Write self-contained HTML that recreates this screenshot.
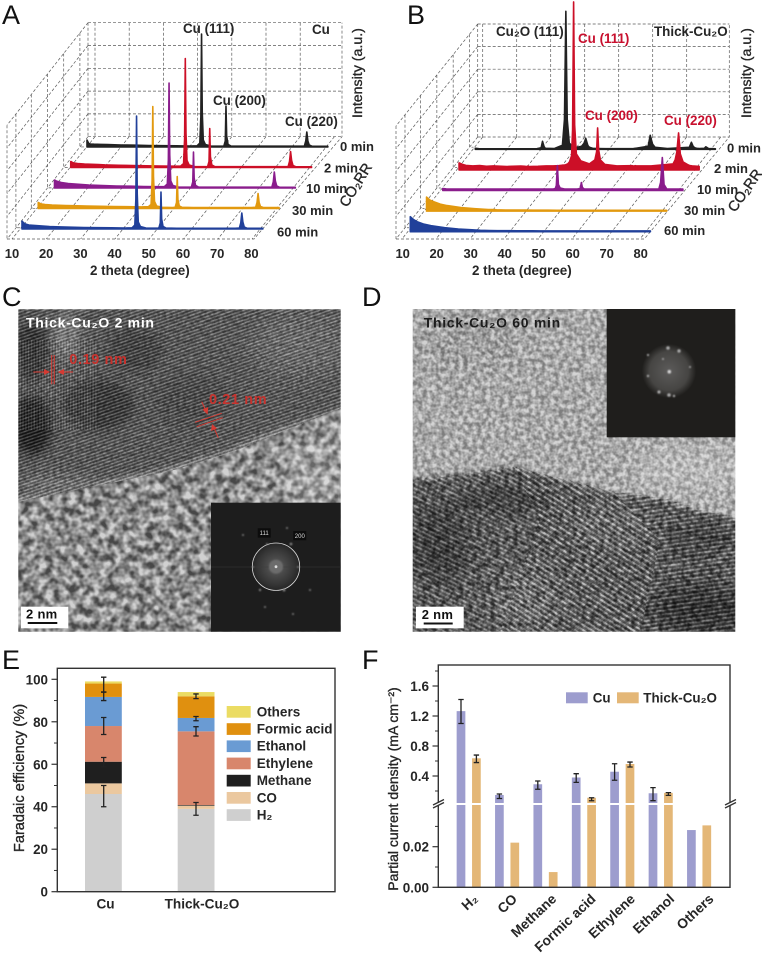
<!DOCTYPE html>
<html lang="en">
<head>
<meta charset="utf-8">
<title>XRD, TEM and CO2RR performance of Cu and Thick-Cu2O</title>
<style>
html,body{margin:0;padding:0;background:#fff;}
svg{display:block;font-family:"Liberation Sans",sans-serif;}
.b{font-weight:bold;fill:#262626;font-size:13px;}
.pl{font-size:27px;fill:#111;}
</style>
</head>
<body>
<svg id="fig" xmlns="http://www.w3.org/2000/svg" width="762" height="957" viewBox="0 0 762 957">
<defs>
  <clipPath id="cClip"><rect x="18.3" y="309.3" width="322.4" height="322.4"/></clipPath>
  <clipPath id="dClip"><rect x="412.7" y="309" width="322.6" height="322.7"/></clipPath>
  <clipPath id="cUpper"><polygon points="18,309 341,309 341,408 233,452 167,472 100,485 18,502"/></clipPath>
  <clipPath id="cLower"><polygon points="18,632 341,632 341,408 233,452 167,472 100,485 18,502"/></clipPath>
  <clipPath id="dLeft"><polygon points="412,480 470,474 514,467 540,520 500,632 412,632"/></clipPath>
  <clipPath id="dMid"><polygon points="514,467 560,478 614,492 660,540 640,632 500,632 540,520"/></clipPath>
  <clipPath id="dRight"><polygon points="614,492 664,498 700,510 736,518 736,632 640,632 660,540"/></clipPath>
  <filter id="blur2" x="-30%" y="-30%" width="160%" height="160%"><feGaussianBlur stdDeviation="2.5"/></filter>
  <filter id="blur5" x="-30%" y="-30%" width="160%" height="160%"><feGaussianBlur stdDeviation="5"/></filter>
  <filter id="blur10" x="-50%" y="-50%" width="200%" height="200%"><feGaussianBlur stdDeviation="10"/></filter>
  <filter id="blur1" x="-50%" y="-50%" width="200%" height="200%"><feGaussianBlur stdDeviation="0.8"/></filter>
  <filter id="blobs" x="0" y="0" width="100%" height="100%" color-interpolation-filters="sRGB">
    <feTurbulence type="fractalNoise" baseFrequency="0.13" numOctaves="2" seed="7"/>
    <feColorMatrix type="matrix" values="2.2 0 0 0 -0.6  2.2 0 0 0 -0.6  2.2 0 0 0 -0.6  0 0 0 0 1"/>
  </filter>
  <filter id="grain" x="0" y="0" width="100%" height="100%" color-interpolation-filters="sRGB">
    <feTurbulence type="fractalNoise" baseFrequency="0.3" numOctaves="2" seed="11"/>
    <feColorMatrix type="matrix" values="2.2 0 0 0 -0.6  2.2 0 0 0 -0.6  2.2 0 0 0 -0.6  0 0 0 0 1"/>
  </filter>
  <filter id="blobsD" x="0" y="0" width="100%" height="100%" color-interpolation-filters="sRGB">
    <feTurbulence type="fractalNoise" baseFrequency="0.22" numOctaves="2" seed="3"/>
    <feColorMatrix type="matrix" values="2.2 0 0 0 -0.6  2.2 0 0 0 -0.6  2.2 0 0 0 -0.6  0 0 0 0 1"/>
  </filter>
  <pattern id="fringeC" width="3.1" height="3.1" patternUnits="userSpaceOnUse" patternTransform="rotate(-19)">
    <rect width="3.1" height="1.4" fill="#fff" fill-opacity="0.2"/><rect y="1.5" width="3.1" height="1.6" fill="#000" fill-opacity="0.2"/>
  </pattern>
  <pattern id="fringeC2" width="2.8" height="2.8" patternUnits="userSpaceOnUse">
    <rect width="1.3" height="2.8" fill="#fff" fill-opacity="0.12"/><rect x="1.4" width="1.4" height="2.8" fill="#000" fill-opacity="0.12"/>
  </pattern>
  <pattern id="fringeD1" width="4" height="4" patternUnits="userSpaceOnUse" patternTransform="rotate(26)">
    <rect width="4" height="1.8" fill="#fff" fill-opacity="0.14"/><rect y="2" width="4" height="2" fill="#000" fill-opacity="0.2"/>
  </pattern>
  <pattern id="fringeD2" width="4.4" height="4.4" patternUnits="userSpaceOnUse" patternTransform="rotate(32)">
    <rect width="4.4" height="1.9" fill="#fff" fill-opacity="0.24"/><rect y="2.2" width="4.4" height="2.2" fill="#000" fill-opacity="0.24"/>
  </pattern>
  <pattern id="fringeD3" width="4" height="4" patternUnits="userSpaceOnUse" patternTransform="rotate(-8)">
    <rect width="4" height="1.8" fill="#fff" fill-opacity="0.16"/><rect y="2" width="4" height="2" fill="#000" fill-opacity="0.22"/>
  </pattern>
  <radialGradient id="glowC"><stop offset="0" stop-color="#808080"/><stop offset="0.25" stop-color="#505050"/><stop offset="0.75" stop-color="#353535"/><stop offset="1" stop-color="#252525"/></radialGradient>
  <radialGradient id="glowD"><stop offset="0" stop-color="#5c5b5a"/><stop offset="0.72" stop-color="#464543"/><stop offset="1" stop-color="#201f1d"/></radialGradient>
</defs>

<text class="pl" x="2" y="24">A</text>
<text class="pl" x="407" y="24">B</text>
<text class="pl" x="2" y="306">C</text>
<text class="pl" x="362" y="306">D</text>
<text class="pl" x="2" y="669">E</text>
<text class="pl" x="362" y="669">F</text>

<g id="panelA"></g>
<g id="panelB"></g>

<g>
  <text class="b" x="183" y="33" style="font-size:13.4px">Cu (111)</text>
  <text class="b" x="312" y="34" style="font-size:13.4px">Cu</text>
  <text class="b" x="213" y="105" style="font-size:13.4px">Cu (200)</text>
  <text class="b" x="285" y="126" style="font-size:13.4px">Cu (220)</text>
  <text class="b" transform="translate(362,118) rotate(-90)" style="font-size:14.2px;font-weight:normal;stroke:#262626;stroke-width:.35px">Intensity (a.u.)</text>
  <text class="b" transform="translate(347,208) rotate(-58)" style="font-size:14.5px;font-weight:normal;stroke:#262626;stroke-width:.35px">CO₂RR</text>
  <text class="b" x="90" y="275" style="font-size:13.4px">2 theta (degree)</text>
</g>
<g>
  <text class="b" x="496" y="36" style="font-size:13.4px">Cu₂O (111)</text>
  <text class="b" x="654" y="36" style="font-size:13.4px">Thick-Cu₂O</text>
  <text class="b" x="578" y="43" style="fill:#c8102e;font-size:13.4px">Cu (111)</text>
  <text class="b" x="585" y="120" style="fill:#c8102e;font-size:13.4px">Cu (200)</text>
  <text class="b" x="664" y="125" style="fill:#c8102e;font-size:13.4px">Cu (220)</text>
  <text class="b" transform="translate(751,118) rotate(-90)" style="font-size:14.2px;font-weight:normal;stroke:#262626;stroke-width:.35px">Intensity (a.u.)</text>
  <text class="b" transform="translate(735,213) rotate(-55)" style="font-size:14.5px;font-weight:normal;stroke:#262626;stroke-width:.35px">CO₂RR</text>
  <text class="b" x="472" y="275" style="font-size:13.4px">2 theta (degree)</text>
</g>

<!-- Panel C: TEM image -->
<g clip-path="url(#cClip)">
  <rect x="18" y="309" width="323" height="323" fill="#8c8c8c"/>
  <polygon points="300,632 341,632 341,420 280,440" fill="#a0a0a0" filter="url(#blur10)"/>
  <polygon points="10,300 350,300 350,404 233,448 167,468 100,481 10,498" fill="#525252" filter="url(#blur2)"/>
  <ellipse cx="32" cy="425" rx="20" ry="30" fill="#181818" filter="url(#blur5)"/>
  <ellipse cx="32" cy="352" rx="17" ry="30" fill="#2a2a2a" filter="url(#blur5)"/>
  <ellipse cx="66" cy="335" rx="14" ry="24" fill="#7c7c7c" filter="url(#blur5)"/>
  <ellipse cx="98" cy="405" rx="36" ry="26" fill="#303030" filter="url(#blur5)"/>
  <ellipse cx="135" cy="350" rx="28" ry="24" fill="#3c3c3c" filter="url(#blur5)"/>
  <ellipse cx="190" cy="400" rx="40" ry="26" fill="#444" filter="url(#blur10)"/>
  <ellipse cx="300" cy="345" rx="50" ry="32" fill="#686868" filter="url(#blur10)"/>
  <ellipse cx="60" cy="485" rx="40" ry="10" fill="#6f6f6f" filter="url(#blur5)"/>
  <ellipse cx="280" cy="440" rx="50" ry="10" fill="#8a8a8a" filter="url(#blur5)" transform="rotate(-20 280 440)"/>
  <rect x="18" y="309" width="323" height="200" fill="url(#fringeC)" clip-path="url(#cUpper)"/>
  <rect x="18" y="340" width="80" height="90" fill="url(#fringeC2)"/>
  <rect x="18" y="309" width="323" height="200" filter="url(#grain)" clip-path="url(#cUpper)" opacity="0.25" style="mix-blend-mode:overlay"/>
  <rect x="18" y="400" width="323" height="232" filter="url(#blobs)" clip-path="url(#cLower)" opacity="0.6" style="mix-blend-mode:overlay"/>
</g>
<g>
  <rect x="211" y="502.7" width="129.7" height="129" fill="#1d1d1d"/>
  <circle cx="276" cy="566.7" r="24" fill="url(#glowC)"/>
  <line x1="211" y1="567" x2="340" y2="567" stroke="#3c3c3c" stroke-width="0.6"/>
  <circle cx="276" cy="566.7" r="23.7" fill="none" stroke="#dcdcdc" stroke-width="0.8"/>
  <circle cx="276" cy="566.7" r="7" fill="#6c6c6c" filter="url(#blur1)"/>
  <circle cx="276" cy="566.7" r="1.4" fill="#ddd"/>
  <g fill="#7c7c7c" filter="url(#blur1)">
    <circle cx="291" cy="544" r="1.4"/><circle cx="284" cy="590" r="1.5"/><circle cx="260" cy="590" r="1.2"/><circle cx="253" cy="567" r="1"/><circle cx="298" cy="567" r="1"/><circle cx="243" cy="535" r="1"/><circle cx="265" cy="607" r="1"/><circle cx="293" cy="614" r="1"/><circle cx="310" cy="590" r="1"/><circle cx="267" cy="544" r="1"/><circle cx="287" cy="528" r="1"/>
  </g>
  <rect x="257.7" y="528.3" width="13" height="9.3" fill="#0c0c0c"/>
  <text x="264.2" y="535.2" text-anchor="middle" font-size="6" fill="#ddd">111</text>
  <rect x="293.3" y="531" width="13" height="9.3" fill="#0c0c0c"/>
  <text x="299.8" y="537.9" text-anchor="middle" font-size="6" fill="#ddd">200</text>
</g>
<g>
  <text x="26" y="327.7" font-size="14" font-weight="bold" fill="#fff" letter-spacing="0.7">Thick-Cu₂O 2 min</text>
  <text x="69.3" y="364" font-size="14.5" font-weight="bold" fill="#c8322d" letter-spacing="0.6">0.19 nm</text>
  <text x="209" y="404" font-size="14.5" font-weight="bold" fill="#c8322d" letter-spacing="0.6">0.21 nm</text>
  <g stroke="#d63a32" stroke-width="1" fill="#d63a32">
    <line x1="51.7" y1="355" x2="51.7" y2="384.3"/><line x1="54.3" y1="355" x2="54.3" y2="384.3"/>
    <line x1="33.3" y1="372" x2="46" y2="372"/><line x1="73" y1="372" x2="62" y2="372"/>
    <polygon stroke="none" points="50,372 44,369 44,375"/><polygon stroke="none" points="57.7,372 64,369 64,375"/>
  </g>
  <g stroke="#d63a32" stroke-width="1" fill="#d63a32">
    <line x1="195" y1="422.3" x2="221.7" y2="413.3"/><line x1="196.7" y1="426.7" x2="222.7" y2="417.7"/>
    <line x1="201.7" y1="401.7" x2="206" y2="411"/><line x1="218.3" y1="437.7" x2="214" y2="428"/>
    <polygon stroke="none" points="207.6,414.6 202.5,409.5 208.2,407"/><polygon stroke="none" points="212,424 211,431 217,428.5"/>
  </g>
  <rect x="21" y="606.7" width="47.3" height="21.6" fill="#fff"/>
  <text x="26" y="618.5" font-size="13" font-weight="bold" fill="#111" letter-spacing="0.3">2 nm</text>
  <line x1="27.7" y1="623" x2="57.3" y2="623" stroke="#111" stroke-width="2"/>
</g>

<!-- Panel D: TEM image -->
<g clip-path="url(#dClip)">
  <rect x="412" y="309" width="324" height="324" fill="#a9a9a9"/>
  <ellipse cx="470" cy="340" rx="50" ry="30" fill="#a0a0a0" filter="url(#blur10)"/>
  <ellipse cx="690" cy="470" rx="60" ry="25" fill="#b8b8b8" filter="url(#blur10)"/>
  <polygon points="405,480 470,474 514,467 560,480 614,494 664,500 700,512 745,520 745,640 405,640" fill="#5c5c5c" filter="url(#blur2)"/>
  <ellipse cx="440" cy="545" rx="30" ry="40" fill="#3c3c3c" filter="url(#blur10)"/>
  <ellipse cx="500" cy="500" rx="50" ry="14" fill="#444" filter="url(#blur5)"/>
  <ellipse cx="700" cy="610" rx="50" ry="28" fill="#333" filter="url(#blur10)"/>
  <ellipse cx="700" cy="540" rx="34" ry="18" fill="#474747" filter="url(#blur5)"/>
  <ellipse cx="525" cy="600" rx="34" ry="30" fill="#707070" filter="url(#blur10)"/>
  <ellipse cx="610" cy="525" rx="40" ry="20" fill="#6c6c6c" filter="url(#blur5)"/>
  <rect x="412" y="460" width="324" height="172" fill="url(#fringeD1)" clip-path="url(#dLeft)"/>
  <rect x="412" y="460" width="324" height="172" fill="url(#fringeD2)" clip-path="url(#dMid)"/>
  <rect x="412" y="460" width="324" height="172" fill="url(#fringeD3)" clip-path="url(#dRight)"/>
  <rect x="412" y="309" width="324" height="323" filter="url(#blobsD)" opacity="0.5" style="mix-blend-mode:overlay"/>
</g>
<g>
  <rect x="606.7" y="309" width="128.6" height="128.3" fill="#1f1e1c"/>
  <circle cx="669" cy="371" r="27" fill="url(#glowD)"/>
  <circle cx="669.3" cy="371.7" r="1.8" fill="#d0d0d0" filter="url(#blur1)"/>
  <g fill="#a8a8a8" filter="url(#blur1)">
    <circle cx="668" cy="348" r="1.8"/><circle cx="679" cy="351" r="1.7"/><circle cx="648" cy="355" r="1.1"/><circle cx="690" cy="367" r="1"/><circle cx="648" cy="376" r="1.2"/><circle cx="659" cy="392" r="1.6"/><circle cx="669" cy="395" r="1.8"/><circle cx="674" cy="396" r="1.2"/><circle cx="663" cy="359" r="1"/>
  </g>
</g>
<g>
  <text x="423.7" y="327.7" font-size="14" font-weight="bold" fill="#1d1d1d" letter-spacing="0.7">Thick-Cu₂O 60 min</text>
  <rect x="416" y="606.7" width="47.7" height="21.6" fill="#fff"/>
  <text x="421.7" y="619" font-size="13" font-weight="bold" fill="#111" letter-spacing="0.3">2 nm</text>
  <line x1="423.7" y1="623.5" x2="452.7" y2="623.5" stroke="#111" stroke-width="2"/>
</g>

<g id="panelE"></g>
<g id="panelF"></g>
</svg>

<script>
// ---- Panels A and B: XRD waterfall data ----
const xrdSamples = ["0 min", "2 min", "10 min", "30 min", "60 min"];
const xrdTicks = [10, 20, 30, 40, 50, 60, 70, 80];
const xrdColors = ["#222222", "#cc0f27", "#8a1c8c", "#e2990f", "#21409a"];

const thetaA = [10,10.5,11,12,14,16,18,20,24,28,32,36,40,42,42.8,43.1,43.3,43.5,43.8,44.4,46,49,49.8,50.2,50.4,50.6,51,51.8,55,60,65,72,73.2,73.6,73.9,74.2,74.6,75.4,78,80];
const cu0min = [7,3.5,3,2.8,2.6,2.4,2.2,2,1.8,1.5,1.3,1.2,1,1.2,4,30,113,35,7,2.5,1,.8,1,6,41,11,2.5,1,.8,.8,.8,.8,1,6,15,6,2,.8,.7,.7];
const cu2min = [6,5,4.5,4,3.5,3.2,3,2.6,2.2,2,1.7,1.5,1.3,1.5,4,29,109,34,7,2.5,1,.8,1,6,39,11,2.5,1,.8,.8,.8,.8,1,6,16,7,2,.8,.7,.7];
const cu10min = [8,7,6.5,5.5,4.5,4,3.5,3,2.5,2,1.8,1.5,1.3,1.5,4,28,105,33,7,2.5,1,.8,1,6,36,10,2.5,1,.8,.8,.8,.8,1,6,16,7,2,.8,.7,.7];
const cu30min = [6,5,4.5,4,3.5,3.2,3,2.8,2.5,2.2,2,1.8,1.6,1.8,4,28,102,32,7,2.5,1.2,1,1.2,6,32,9,2.5,1.2,1,1,1,1,1.2,6,15,6,2,1,1,1];
const cu60min = [8,6,5,4,3.5,3,2.5,2.2,1.8,1.5,1.3,1.2,1,1.2,4,30,113,35,7,2.5,1,.8,1,6,37,10,2.5,1,.7,.7,.7,.7,1,6,16,7,2,.8,.7,.7];

const thetaB = [10,11,12,14,16,18,20,24,28,29.2,29.6,30,30.4,33,35.4,36,36.4,36.8,37.4,39,41,41.7,42.2,42.8,43.1,43.4,43.7,44.2,45.5,48,49.6,50.1,50.4,50.7,51.2,52.5,56,60.4,61,61.3,61.7,62.4,66,72.4,73,73.5,74,74.5,75.3,76.8,77.2,78,80];
const oxide0min = [1,.6,.5,.5,.5,.5,.5,.5,.6,1.5,8,3,1,.7,4,30,138,30,6,1.5,3,6,11,4,2.5,2,1.5,1,.8,.6,.6,.6,.6,.6,.6,.6,.6,3,14,10,5,2,.7,2,7,3,1.5,1,.7,1,2.5,.7,.5];
const oxide2min = [7,5.5,4.5,4,4.4,3.6,4,3.4,3.8,3.6,3.2,3.8,3.4,3.6,4,4,4,4,4,4.2,5,6,8,14,40,168,45,16,9,6,10,18,42,20,10,5.5,4,4.2,3.8,4.2,4,4,4,6,10,18,37,16,8,5,4.4,4,3.5];
const oxide10min = [2,1.6,1.5,1.4,1.4,1.4,1.4,1.4,1.4,1.4,1.4,1.4,1.4,1.4,1.4,1.4,1.4,1.4,1.4,1.4,1.4,1.4,1.5,2,5,25,6,2.5,1.5,1.4,1.4,2.5,8,3,1.5,1.4,1.4,1.4,1.4,1.4,1.4,1.4,1.4,1.4,1.5,8,33,6,1.5,1.4,1.4,1.4,1.4];
const oxide30min = [14,11,9.5,7,5.5,4.5,3.5,2.4,1.6,1.5,1.4,1.4,1.3,1.1,1,1,1,1,1,1,.9,.9,.9,.9,.9,.9,.9,.9,.9,.8,.8,.8,.8,.8,.8,.8,.8,.8,.8,.8,.8,.8,.8,.8,.8,.8,.8,.8,.8,.8,.8,.8,.8];
const oxide60min = [15,12,10,7.5,6,5,4,2.6,1.9,1.7,1.6,1.5,1.4,1.1,1,1,1,1,1,1,.9,.9,.9,.9,.9,.9,.9,.9,.9,.8,.8,.8,.8,.8,.8,.8,.8,.8,.8,.8,.8,.8,.8,.8,.8,.8,.8,.8,.8,.8,.8,.8,.8];

// ---- Panel E: Faradaic efficiency data ----
const feProducts = ["H₂", "CO", "Methane", "Ethylene", "Ethanol", "Formic acid", "Others"];
const feColors = ["#cfcfcf", "#ebc89f", "#1f1f1f", "#d8866c", "#6a9bd3", "#e0900f", "#ebdc63"];
const feCu = [46, 5, 10.2, 16.8, 13.7, 6.3, 1];
const feThick = [39, 1.5, 0.3, 34.7, 6.3, 10.2, 2];
const feCuErrCenter = [45, 61, 78, 92, 97.5];
const feCuErr = [5, 2.2, 4, 2, 3.5];
const feThickErrCenter = [39, 75.5, 81.5, 92];
const feThickErr = [3, 2.2, 1, 1.1];
const feSamples = ["Cu", "Thick-Cu₂O"];
const feTicks = [0, 20, 40, 60, 80, 100];
const feMinorTicks = [10, 30, 50, 70, 90];

// ---- Panel F: partial current density data ----
const pcdProducts = ["H₂", "CO", "Methane", "Formic acid", "Ethylene", "Ethanol", "Others"];
const pcdCu = [1.265, 0.147, 0.29, 0.38, 0.457, 0.17, 0.0282];
const pcdThick = [0.636, 0.022, 0.0075, 0.11, 0.56, 0.175, 0.0305];
const pcdCuErrCenter = [1.26, 0.13, 0.278, 0.373, 0.453, 0.158, null];
const pcdCuErr = [0.16, 0.03, 0.055, 0.058, 0.11, 0.087, null];
const pcdThickErrCenter = [0.629, null, null, 0.09, 0.553, 0.16, null];
const pcdThickErr = [0.05, null, null, 0.02, 0.033, 0.018, null];
const pcdUpperTicks = [0.4, 0.8, 1.2, 1.6];
const pcdUpperMinor = [0.2, 0.6, 1.0, 1.4, 1.8];
const pcdLowerTicks = [0, 0.02];
const pcdLowerMinor = [0.01, 0.03];
const pcdLegend = ["Cu", "Thick-Cu₂O"];

const NS = "http://www.w3.org/2000/svg";
function mk(parent, tag, attrs, txt) {
  const e = document.createElementNS(NS, tag);
  for (const k in attrs) e.setAttribute(k, attrs[k]);
  if (txt !== undefined) e.textContent = txt;
  parent.appendChild(e);
  return e;
}

// ---- XRD drawing ----
function drawXrd(root, f, thetas, series, labelPos) {
  const xOf = (theta, s) => f.x0 + (theta - 10) * f.sx + (4 - s) * f.stepX;
  const yOf = (v, s) => f.y0 - (4 - s) * f.stepY - v * f.unit;
  const frame = mk(root, "g", {fill: "none", stroke: "#5a5a5a", "stroke-width": 0.7, "stroke-dasharray": "3 2"});
  
  
  const rows = 5;
  for (let i = 0; i <= rows; i++) {
    const yb = f.top + (f.bottom - f.top) * i / rows;
    const wall = mk(frame, "path", {d: "M" + f.bl + " " + yb + "H" + f.br + "M" + f.bl + " " + yb + "L" + f.fl + " " + (yb + f.drop)});
    
    
  }
  mk(frame, "path", {d: "M" + f.fl + " " + f.frontY + "H" + f.fr + "L" + f.br + " " + f.bottom + "V" + f.top + "M" + f.bl + " " + f.top + "V" + f.bottom + "M" + f.fl + " " + (f.top + f.drop) + "V" + f.frontY});
  xrdTicks.forEach((t, i) => {
    const xb = f.gx + i * f.gstep;
    const xf = f.tx + i * f.tstep;
    if (i < 7) {
      const v = mk(frame, "line", {x1: xb, y1: f.top, x2: xb, y2: f.bottom});
      
      
    }
    const d = mk(frame, "line", {x1: xb, y1: f.bottom, x2: xf, y2: f.frontY});
    
    
    const lbl = mk(root, "text", {x: f.lx + i * f.lstep, y: 258, "text-anchor": "middle", class: "b"}, String(t));
    
    
  });
  [0.11, 0.3, 0.5, 0.7, 0.9].forEach(p => {
    const x = f.fl + (f.bl - f.fl) * p;
    const y1 = f.top + f.drop * (1 - p);
    const y2 = f.frontY - (f.frontY - f.bottom) * p;
    const v = mk(frame, "path", {d: "M" + x + " " + y1 + "V" + y2 + "H" + (x + 4)});
    
    
  });
  series.forEach((vals, s) => {
    let d = "M" + xOf(thetas[0], s).toFixed(2) + " " + yOf(0, s).toFixed(2);
    vals.forEach((v, i) => { d += "L" + xOf(thetas[i], s).toFixed(2) + " " + yOf(v, s).toFixed(2); });
    d += "L" + xOf(thetas[thetas.length - 1], s).toFixed(2) + " " + yOf(0, s).toFixed(2) + "Z";
    const p = mk(root, "path", {d: d, fill: xrdColors[s], stroke: xrdColors[s], "stroke-width": 1.6, "stroke-linejoin": "round"});
    
    
    const t = mk(root, "text", {x: labelPos[s][0], y: labelPos[s][1], class: "b"}, xrdSamples[s]);
    
    
  });
}
drawXrd(document.getElementById("panelA"),
  {x0: 22, sx: 3.44, stepX: 16.25, y0: 229, stepY: 20.5, unit: 1, top: 22.7, bottom: 136.7, bl: 88, br: 342, fl: 7, fr: 254, frontY: 239, drop: 102.5, gx: 95, gstep: 34.2, tx: 12, tstep: 34.3, lx: 12, lstep: 34.2},
  thetaA, [cu0min, cu2min, cu10min, cu30min, cu60min],
  [[340, 151], [324, 172.7], [306, 193], [292, 215], [277, 236.7]]);
drawXrd(document.getElementById("panelB"),
  {x0: 410.3, sx: 3.43, stepX: 16.25, y0: 231.7, stepY: 20.6, unit: 1, top: 24, bottom: 137, bl: 477.7, br: 729.3, fl: 396, fr: 644.3, frontY: 239, drop: 102, gx: 482.7, gstep: 34, tx: 402, tstep: 34, lx: 402.7, lstep: 34},
  thetaB, [oxide0min, oxide2min, oxide10min, oxide30min, oxide60min],
  [[727, 152.7], [714, 173], [697, 194], [684, 215], [664, 235]]);

// ---- Panel E ----
(function () {
  const root = document.getElementById("panelE");
  const yE = v => 891.7 - v * 2.124;
  const barX = [85, 177.7];
  const barW = 36.8;
  [feCu, feThick].forEach((vals, b) => {
    let acc = 0;
    vals.forEach((v, i) => {
      const r = mk(root, "rect", {x: barX[b], y: yE(acc + v), width: barW, height: v * 2.124, fill: feColors[i]});
      
      
      acc += v;
    });
  });
  const errs = (centers, errors, x) => centers.forEach((c, i) => {
    const top = yE(c + errors[i]);
    const bot = yE(c - errors[i]);
    const e = mk(root, "path", {d: "M" + (x - 2.7) + " " + top + "h5.4M" + x + " " + top + "V" + bot + "M" + (x - 2.7) + " " + bot + "h5.4", stroke: "#222", "stroke-width": 1.3, fill: "none"});
    
    
  });
  errs(feCuErrCenter, feCuErr, 103.7);
  errs(feThickErrCenter, feThickErr, 196);
  const box = mk(root, "rect", {x: 57.3, y: 668.3, width: 277.7, height: 223.4, fill: "none", stroke: "#333", "stroke-width": 1.4});
  
  
  feTicks.forEach(t => {
    const l = mk(root, "line", {x1: 51.5, x2: 57.3, y1: yE(t), y2: yE(t), stroke: "#333", "stroke-width": 1.2});
    
    
    const txt = mk(root, "text", {x: 48, y: yE(t) + 5, "text-anchor": "end", class: "b", style: "font-size:13.4px"}, String(t));
    
    
  });
  feMinorTicks.forEach(t => {
    const l = mk(root, "line", {x1: 54, x2: 57.3, y1: yE(t), y2: yE(t), stroke: "#333", "stroke-width": 1});
    
    
  });
  [105.5, 202].forEach((x, i) => {
    const t = mk(root, "text", {x: x, y: 908.3, "text-anchor": "middle", class: "b", style: "font-size:13.6px"}, feSamples[i]);
    
    
  });
  const yt = mk(root, "text", {transform: "translate(24,778) rotate(-90)", "text-anchor": "middle", class: "b", style: "font-size:14.6px;font-weight:normal;stroke:#262626;stroke-width:.35px"}, "Faradaic efficiency (%)");
  
  
  feProducts.forEach((name, i) => {
    const row = 6 - i;
    const sw = mk(root, "rect", {x: 226.7, y: 706 + row * 17.2, width: 24, height: 11.7, fill: feColors[i]});
    
    
    const t = mk(root, "text", {x: 256.7, y: 716.3 + row * 17.2, class: "b", style: "font-size:13.5px"}, name);
    
    
  });
})();

// ---- Panel F ----
(function () {
  const root = document.getElementById("panelF");
  const base = 887.3;
  const yF = v => v <= 0.041 ? base - v * 2030 : 776 - (v - 0.4) * 75;
  const groupX = i => 468.7 + i * 38.4;
  const barW = 8.7;
  pcdProducts.forEach((name, i) => {
    const c = groupX(i);
    const a = mk(root, "rect", {x: c - 7.7 - barW / 2, y: yF(pcdCu[i]), width: barW, height: base - yF(pcdCu[i]), fill: "#9d9dce"});
    
    
    const b = mk(root, "rect", {x: c + 7.7 - barW / 2, y: yF(pcdThick[i]), width: barW, height: base - yF(pcdThick[i]), fill: "#e4b777"});
    
    
    const t = mk(root, "text", {transform: "translate(" + (c + 10 + i * 0.9) + ",900) rotate(-43)", "text-anchor": "end", class: "b", style: "font-size:13.8px"}, name);
    
    
  });
  const errs = (centers, errors, dx) => centers.forEach((c, i) => {
    if (c === null) return;
    const x = groupX(i) + dx;
    const top = yF(c + errors[i]);
    const bot = yF(c - errors[i]);
    const e = mk(root, "path", {d: "M" + (x - 2.7) + " " + top + "h5.4M" + x + " " + top + "V" + bot + "M" + (x - 2.7) + " " + bot + "h5.4", stroke: "#222", "stroke-width": 1.3, fill: "none"});
    
    
  });
  errs(pcdCuErrCenter, pcdCuErr, -7.7);
  errs(pcdThickErrCenter, pcdThickErr, 7.7);
  const box = mk(root, "rect", {x: 438.3, y: 665, width: 291.7, height: 222.3, fill: "none", stroke: "#333", "stroke-width": 1.4});
  
  
  const gap = mk(root, "rect", {x: 430, y: 803, width: 310, height: 2, fill: "#fff"});
  
  
  [433, 725].forEach(x => {
    const br = mk(root, "path", {d: "M" + x + " " + 805 + "l11 -5.5M" + x + " " + 808 + "l11 -5.5", stroke: "#333", "stroke-width": 1.3, fill: "none"});
    
    
  });
  pcdUpperTicks.concat(pcdLowerTicks).forEach(t => {
    const l = mk(root, "line", {x1: 432.5, x2: 438.3, y1: yF(t), y2: yF(t), stroke: "#333", "stroke-width": 1.2});
    
    
    const txt = mk(root, "text", {x: 429, y: yF(t) + 5, "text-anchor": "end", class: "b", style: "font-size:13.5px"}, t < 0.1 ? t.toFixed(2) : t.toFixed(1));
    
    
  });
  pcdUpperMinor.concat(pcdLowerMinor).forEach(t => {
    const l = mk(root, "line", {x1: 435, x2: 438.3, y1: yF(t), y2: yF(t), stroke: "#333", "stroke-width": 1});
    
    
  });
  const yt = mk(root, "text", {transform: "translate(398,789) rotate(-90)", "text-anchor": "middle", class: "b", style: "font-size:14px;font-weight:normal;stroke:#262626;stroke-width:.35px"}, "Partial current density (mA cm⁻²)");
  
  
  [[566, 592.7, "#9d9dce"], [617, 643.3, "#e4b777"]].forEach((L, i) => {
    const sw = mk(root, "rect", {x: L[0], y: 692.3, width: 21.7, height: 11, fill: L[2]});
    
    
    const t = mk(root, "text", {x: L[1], y: 702.3, class: "b", style: "font-size:13.4px"}, pcdLegend[i]);
    
    
  });
})();
</script>
</body>
</html>
